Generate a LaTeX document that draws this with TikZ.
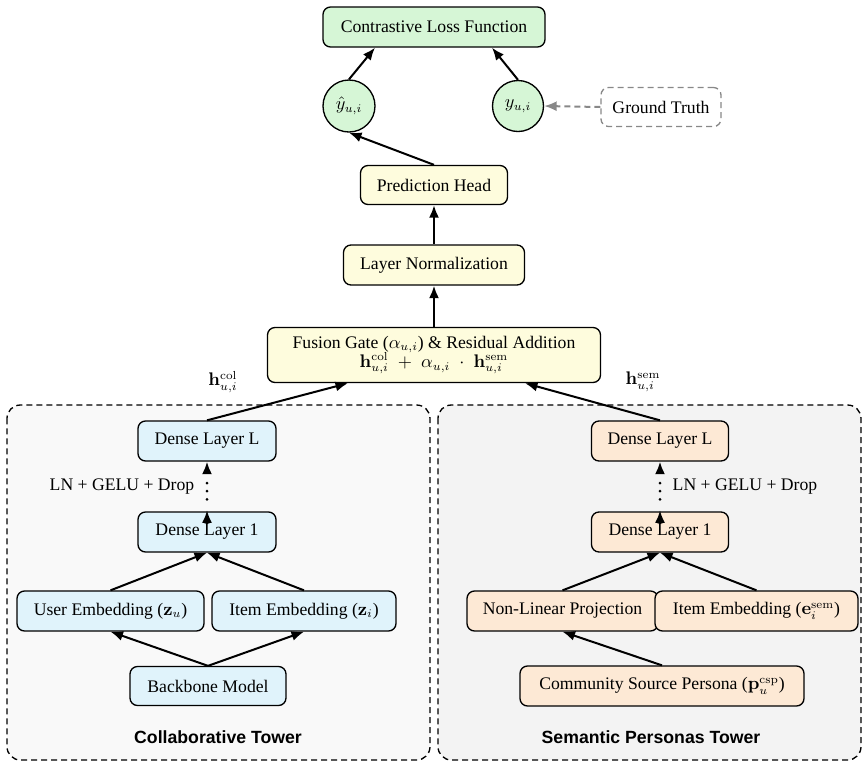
\documentclass[tikz,border=0pt]{standalone}
\usepackage[no-math]{fontspec}
\setmainfont{Liberation Serif}
\newfontfamily\titlefont{Liberation Sans}
\usetikzlibrary{arrows.meta,calc}
\definecolor{cgreen}{HTML}{D6F6D6}
\definecolor{cblue}{HTML}{E0F3FB}
\definecolor{corange}{HTML}{FDE9D5}
\definecolor{cyellow}{HTML}{FEFCDD}
\definecolor{cleft}{HTML}{F9F9F9}
\definecolor{cright}{HTML}{F3F3F3}
\definecolor{cgray}{HTML}{888888}
\begin{document}
\begin{tikzpicture}[x=0.6pt,y=-0.6pt,
  font=\fontsize{10.6}{12.5}\selectfont,
  sz/.style 2 args={minimum width=#1*0.6pt, minimum height=#2*0.6pt},
  box/.style={draw=black, line width=0.8pt, rounded corners=4.5pt, align=center, inner sep=0pt},
  gbox/.style={box, fill=cgreen},
  ybox/.style={box, fill=cyellow},
  bbox/.style={box, fill=cblue},
  obox/.style={box, fill=corange},
  circ/.style={circle, draw=black, line width=0.8pt, fill=cgreen, inner sep=0pt},
  tower/.style={draw=black, line width=0.8pt, dash pattern=on 3.6pt off 2.4pt, rounded corners=8pt},
  arr/.style={-{Latex[length=7.5pt,width=6pt]}, line width=1.2pt},
  garr/.style={-{Latex[length=7.5pt,width=6pt]}, line width=1.2pt, draw=cgray, dash pattern=on 3.6pt off 2.4pt},
  dotline/.style={line width=1.8pt, line cap=round, dash pattern=on 0pt off 4.9pt},
  ttl/.style={font=\titlefont\bfseries\fontsize{10.6}{12.5}\selectfont}
]
\useasboundingbox (0,0) rectangle (868,767);

% towers
\path[tower, fill=cleft] (7,405) rectangle (430,760);
\path[tower, fill=cright] (438,405) rectangle (861,760);
\node[ttl] (ctitle) at (218,737) {Collaborative Tower};
\node[ttl] (stitle) at (651,737) {Semantic Personas Tower};

% top
\node[gbox, sz={222}{40}] (loss) at (434,27) {Contrastive Loss Function};
\node[circ, minimum size=52*0.6pt] (yhat) at (349,106) {$\hat{y}_{u,i}$};
\node[circ, minimum size=51*0.6pt] (y) at (518,106) {$y_{u,i}$};
\node[box, sz={120}{39}, draw=cgray, fill=white, dash pattern=on 3.6pt off 2.4pt] (gt) at (661,107) {Ground Truth};
\node[ybox, sz={147}{39}] (pred) at (434,185) {Prediction Head};
\node[ybox, sz={181}{40}] (ln) at (434,265) {Layer Normalization};
\node[ybox, sz={333}{55}] (fus) at (434,355) {Fusion Gate ($\alpha_{u,i}$) \& Residual Addition\\[-1pt]
  $\mathbf{h}^{\mathrm{col}}_{u,i}\;+\;\alpha_{u,i}\;\cdot\;\mathbf{h}^{\mathrm{sem}}_{u,i}$};
\node (hcol) at (223,382) {$\mathbf{h}^{\mathrm{col}}_{u,i}$};
\node (hsem) at (643,382) {$\mathbf{h}^{\mathrm{sem}}_{u,i}$};

% collaborative tower
\node[bbox, sz={138}{40}] (dLl) at (207,441) {Dense Layer L};
\node[bbox, sz={138}{40}] (d1l) at (207,532) {Dense Layer 1};
\node (lgl) at (122,487) {LN + GELU + Drop};
\node[bbox, sz={187}{40}] (user) at (110.5,611) {User Embedding ($\mathbf{z}_u$)};
\node[bbox, sz={184}{40}] (itemz) at (304,611) {Item Embedding ($\mathbf{z}_i$)};
\node[bbox, sz={156}{39}] (back) at (208,686) {Backbone Model};

% semantic tower
\node[obox, sz={137}{40}] (dLr) at (660,441) {Dense Layer L};
\node[obox, sz={137}{40}] (d1r) at (660,532) {Dense Layer 1};
\node (lgr) at (745,487) {LN + GELU + Drop};
\node[obox, sz={191}{40}] (nonlin) at (562.5,611) {Non-Linear Projection};
\node[obox, sz={203}{40}] (iteme) at (756.5,611) {Item Embedding ($\mathbf{e}^{\mathrm{sem}}_i$)};
\node[obox, sz={284}{40}] (comm) at (662,686) {Community Source Persona ($\mathbf{p}^{\mathrm{csp}}_u$)};

% connectors top
\draw[arr] (yhat.north) -- ($(loss.south)+(-59,0)$);
\draw[arr] (y.north) -- ($(loss.south)+(58,0)$);
\draw[garr] (gt.west) -- (y.east);
\draw[arr] (pred.north) -- (yhat.south);
\draw[arr] (ln.north) -- (pred.south);
\draw[arr] (fus.north) -- (ln.south);
\draw[arr] (dLl.north) -- ($(fus.south)+(-86,0)$);
\draw[arr] (dLr.north) -- ($(fus.south)+(91,0)$);

% stacks
\foreach \a/\b in {d1l/dLl, d1r/dLr}{
  \draw[arr] ($(\b.south)+(0,12)$) -- (\b.south);
  \draw[dotline] ($(\a.north)+(0,-12)$) -- ($(\b.south)+(0,20.5)$);
  \draw[arr] ($(\a.north)+(0,13)$) -- ($(\a.north)+(0,-1)$);
}

% inputs
\draw[arr] (user.north) -- (d1l.south);
\draw[arr] (itemz.north) -- (d1l.south);
\draw[arr] (back.north) -- (user.south);
\draw[arr] (back.north) -- (itemz.south);
\draw[arr] (nonlin.north) -- (d1r.south);
\draw[arr] (iteme.north) -- (d1r.south);
\draw[arr] (comm.north) -- (nonlin.south);
\end{tikzpicture}
\end{document}
